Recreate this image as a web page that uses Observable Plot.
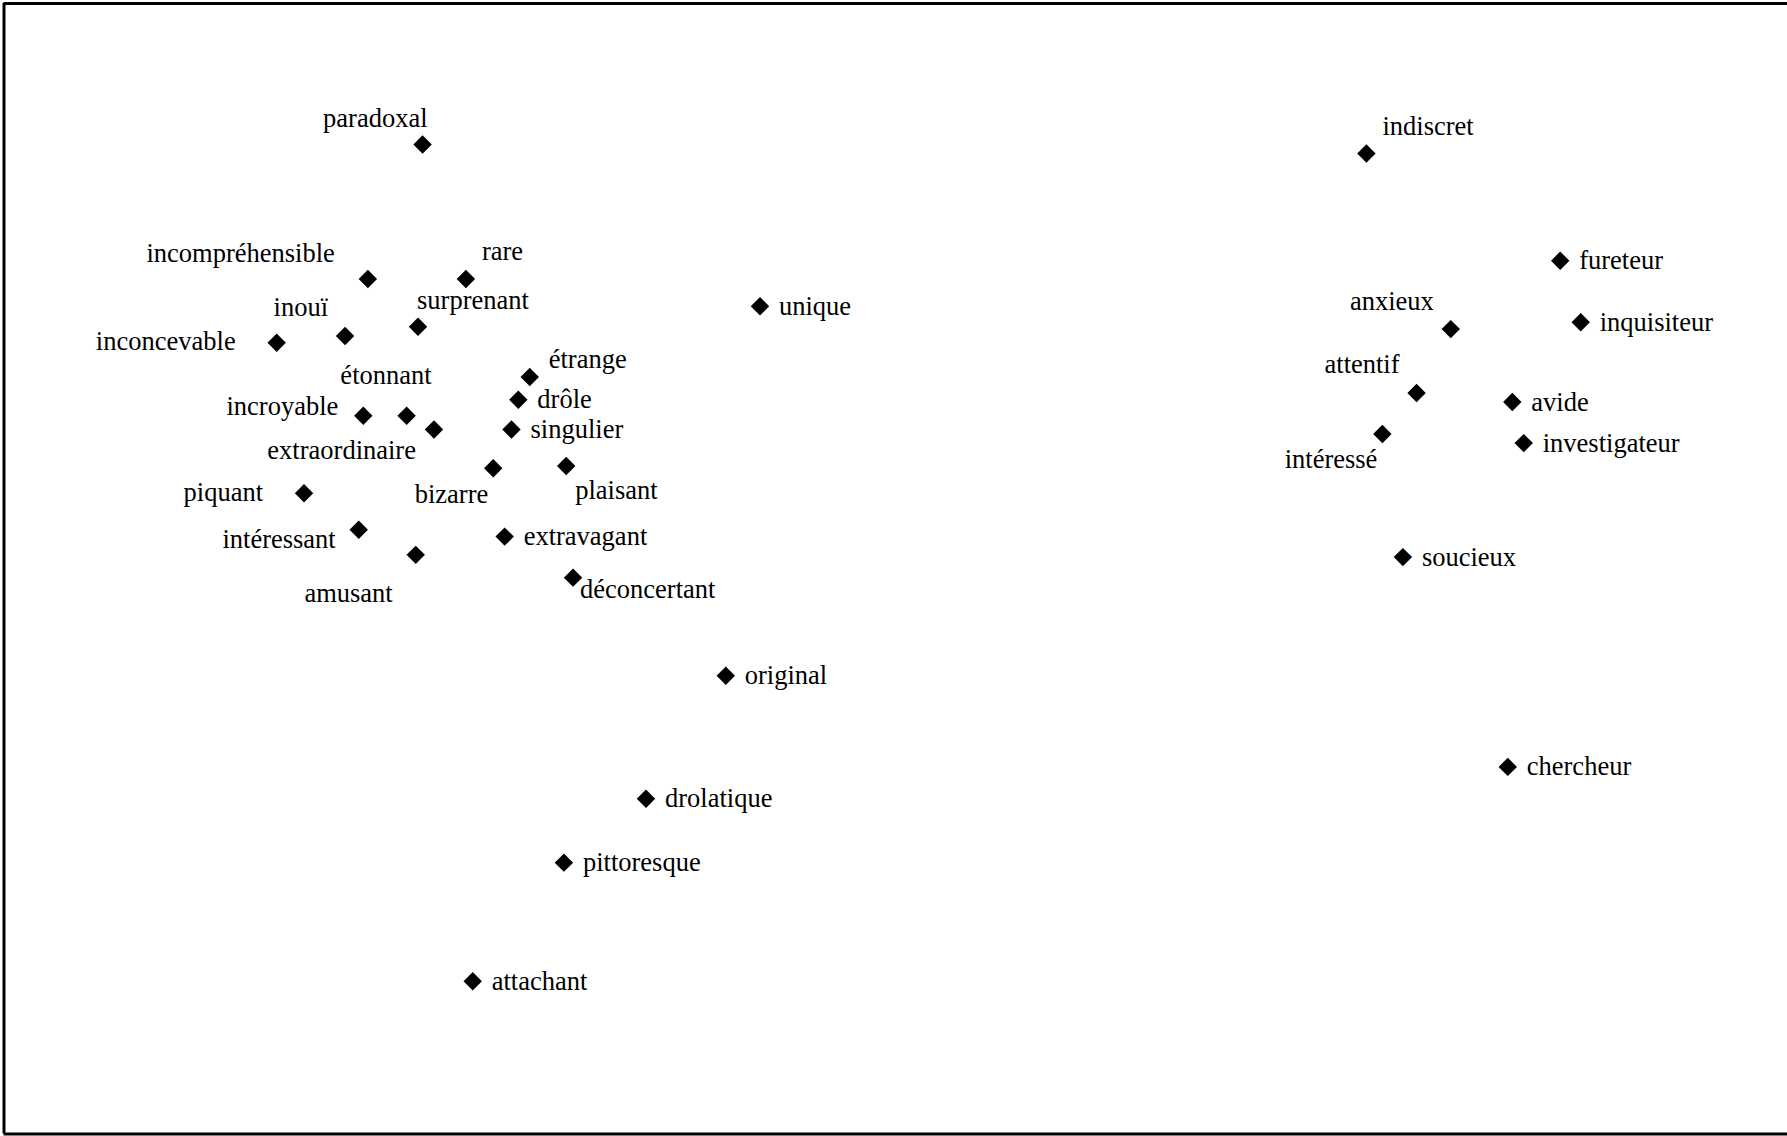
<!DOCTYPE html>
<html>
<head>
<meta charset="utf-8">
<script src="https://cdn.jsdelivr.net/npm/d3@7"></script>
<script src="https://cdn.jsdelivr.net/npm/@observablehq/plot@0.6"></script>
<style>
html, body { margin: 0; padding: 0; background: #fff; overflow: hidden; }
#chart svg { display: block; }
</style>
</head>
<body>
<div id="chart"></div>
<script>
// Words (points of the map)
const words = [
  "paradoxal", "incompréhensible", "rare", "inouï", "inconcevable", "surprenant",
  "incroyable", "étonnant", "extraordinaire", "étrange", "drôle", "singulier",
  "bizarre", "plaisant", "piquant", "intéressant", "amusant", "extravagant",
  "déconcertant", "unique", "original", "drolatique", "pittoresque", "attachant",
  "chercheur", "indiscret", "fureteur", "anxieux", "inquisiteur", "attentif",
  "avide", "intéressé", "investigateur", "soucieux"
];
// Dimension 1 (horizontal) coordinates
const dim1 = [
  -2.07, -2.31, -1.88, -2.41, -2.71, -2.09,
  -2.33, -2.14, -2.02, -1.60, -1.65, -1.68,
  -1.76, -1.44, -2.59, -2.35, -2.10, -1.71,
  -1.41, -0.59, -0.74, -1.09, -1.45, -1.85,
   2.69,  2.07,  2.92,  2.44,  3.01,  2.29,
   2.71,  2.14,  2.76,  2.23
];
// Dimension 2 (vertical) coordinates
const dim2 = [
   1.86,  1.27,  1.27,  1.02,  0.99,  1.06,
   0.67,  0.67,  0.61,  0.84,  0.74,  0.61,
   0.44,  0.45,  0.33,  0.17,  0.06,  0.14,
  -0.04,  1.15, -0.47, -1.01, -1.29, -1.81,
  -0.87,  1.82,  1.35,  1.05,  1.08,  0.77,
   0.73,  0.59,  0.55,  0.05
];
// Label placement relative to the point (compass direction)
const placement = [
  "N", "NWW", "NE", "NW", "W", "NNE",
  "WNW", "NN", "SW", "ENE", "E", "E",
  "SSW", "SE", "W", "WSW", "SSW-low", "E",
  "ESE", "E", "E", "E", "E", "E",
  "E", "NE", "E", "NW", "E", "NW",
  "E", "SSW", "E", "E"
];

const data = words.map((w, i) => ({word: w, d1: dim1[i], d2: dim2[i], pos: placement[i]}));

const W = 1787, H = 1136;
const xDomain = [-3.906, 3.917];
const yDomain = [-2.480, 2.478];

const labelStyles = {
  "E":       {textAnchor: "start", dx: 19,  dy: 0},
  "ENE":     {textAnchor: "start", dx: 19,  dy: -17},
  "NE":      {textAnchor: "start", dx: 16,  dy: -27},
  "NNE":     {textAnchor: "start", dx: -1,  dy: -26},
  "N":       {textAnchor: "end",   dx: 5,   dy: -26},
  "NN":      {textAnchor: "end",   dx: 25,  dy: -40},
  "NW":      {textAnchor: "end",   dx: -17, dy: -28},
  "NWW":     {textAnchor: "end",   dx: -33, dy: -25},
  "WNW":     {textAnchor: "end",   dx: -25, dy: -9},
  "W":       {textAnchor: "end",   dx: -41, dy: -1},
  "WSW":     {textAnchor: "end",   dx: -23, dy: 10},
  "SW":      {textAnchor: "end",   dx: -18, dy: 21},
  "SSW-low": {textAnchor: "end",   dx: -23, dy: 39},
  "SSW":     {textAnchor: "end",   dx: -5,  dy: 26},
  "SE":      {textAnchor: "start", dx: 9,   dy: 25},
  "ESE":     {textAnchor: "start", dx: 7,   dy: 12}
};

const labelMarks = Object.entries(labelStyles).map(([key, s]) =>
  Plot.text(data.filter(d => d.pos === key), {
    x: "d1", y: "d2", text: "word",
    textAnchor: s.textAnchor, dx: s.dx, dy: s.dy,
    lineAnchor: "middle",
    fill: "#000",
    fontSize: 26.5
  })
);

const chart = Plot.plot({
  width: W,
  height: H,
  marginLeft: 3.5,
  marginTop: 3,
  marginBottom: 2.5,
  marginRight: 0,
  style: {fontFamily: "'Liberation Serif', 'Times New Roman', serif", background: "#fff", overflow: "visible"},
  x: {domain: xDomain, axis: null},
  y: {domain: yDomain, axis: null},
  marks: [
    Plot.ruleX([xDomain[0]], {stroke: "#000", strokeWidth: 3}),
    Plot.ruleY([yDomain[0], yDomain[1]], {stroke: "#000", strokeWidth: 3, x1: xDomain[0], x2: xDomain[1]}),
    Plot.dot(data, {x: "d1", y: "d2", symbol: "diamond2", r: 8.3, fill: "#000", stroke: "none"}),
    ...labelMarks
  ]
});

document.getElementById("chart").appendChild(chart);
</script>
</body>
</html>
